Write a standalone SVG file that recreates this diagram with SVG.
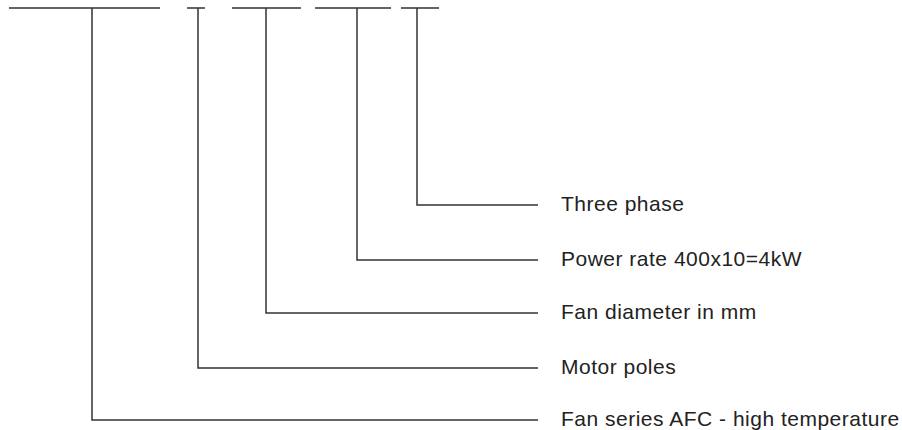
<svg xmlns="http://www.w3.org/2000/svg" width="902" height="430" viewBox="0 0 902 430">
<style>
.ln{stroke:#333;stroke-width:1.5;fill:none}
.t{font-family:"Liberation Sans",Arial,sans-serif;font-size:21px;letter-spacing:0.5px;fill:#222}
</style>
<rect width="902" height="430" fill="#fff"/>
<g id="code">
<path class="ln" d="M9 8H160M187 8H205M232 8H301M315 8H391M401 8H439"/>
</g>
<g id="connectors">
<path class="ln" d="M417 8V205H538"/>
<path class="ln" d="M357 8V260H538"/>
<path class="ln" d="M266 8V313H538"/>
<path class="ln" d="M198 8V368H538"/>
<path class="ln" d="M92 8V420H538"/>
</g>
<g id="n1"><text class="t" x="561" y="211">Three phase</text></g>
<g id="n2"><text class="t" x="561" y="266">Power rate 400x10=4kW</text></g>
<g id="n3"><text class="t" x="561" y="319">Fan diameter in mm</text></g>
<g id="n4"><text class="t" x="561" y="374">Motor poles</text></g>
<g id="n5"><text class="t" x="561" y="426">Fan series AFC - high temperature</text></g>
</svg>
